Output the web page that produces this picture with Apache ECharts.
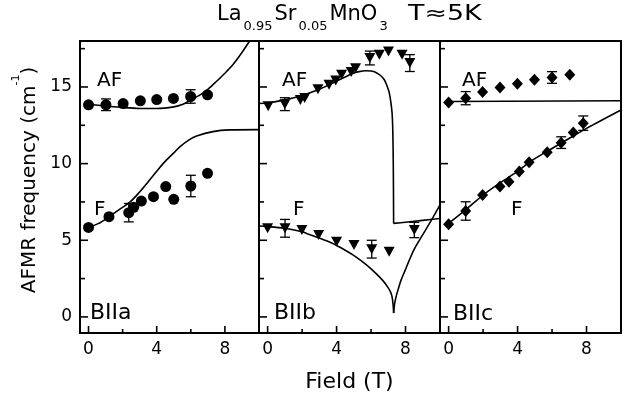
<!DOCTYPE html>
<html>
<head>
<meta charset="utf-8">
</head>
<body style="margin:0;background:#fff">
<div id="chart-panel" style="width:634px;height:401px"></div>
<script type="text/javascript" src="https://cdn.jsdelivr.net/npm/echarts@6/dist/echarts.min.js"></script>
<script type="text/javascript">
// measured points [field T, frequency cm-1]
var aAF = [[0,13.84],[1.02,13.84],[2.03,13.92],[3.04,14.1],[4.0,14.18],[4.98,14.25],[5.99,14.38],[6.98,14.49]];
var aF = [[0,5.84],[1.2,6.54],[2.36,6.8],[2.65,7.15],[3.1,7.56],[3.81,7.84],[4.53,8.5],[5.0,7.67],[6.0,8.54],[6.98,9.37]];
var bAF = [[0.03,13.75],[1.0,13.88],[1.9,14.15],[2.15,14.28],[2.92,14.86],[3.56,15.14],[3.95,15.42],[4.29,15.8],[4.85,15.98],[5.1,16.22],[5.93,16.89],[6.48,17.1],[7.01,17.32],[7.8,17.1],[8.25,16.56]];
var bF = [[0,5.78],[1.01,5.78],[1.99,5.67],[2.96,5.34],[4.0,4.9],[5.01,4.69],[6.04,4.42],[7.05,4.25],[8.51,5.67]];
var cAF = [[0,13.99],[0.99,14.27],[1.97,14.67],[2.98,14.97],[3.99,15.21],[4.98,15.47],[6.0,15.62],[7.03,15.8]];
var cF = [[0,6.04],[0.99,6.91],[1.97,7.95],[2.98,8.5],[3.5,8.82],[4.1,9.48],[4.67,10.09],[5.72,10.74],[6.53,11.37],[7.23,12.03],[7.81,12.64]];

// error bars [field, frequency, +/-]
var aAFerr = [[1.02,13.84,0.38],[5.99,14.38,0.44]];
var aFerr = [[2.36,6.8,0.6],[6.0,8.54,0.7]];
var bAFerr = [[1.0,13.88,0.42],[5.93,16.89,0.45],[8.25,16.56,0.55]];
var bFerr = [[1.01,5.78,0.58],[6.04,4.42,0.58],[8.51,5.67,0.5]];
var cAFerr = [[0.99,14.27,0.43],[6.0,15.62,0.38]];
var cFerr = [[0.99,6.91,0.6],[6.53,11.37,0.38],[7.81,12.64,0.47]];

// theory curves
var aAFfit = [[0,13.87],[1,13.76],[2,13.66],[3,13.6],[4,13.6],[5,13.7],[5.5,13.85],[6,14.15],[6.5,14.45],[7,14.85],[7.5,15.36],[8,15.9],[8.5,16.5],[9,17.25],[9.45,18.0]];
var aFfit = [[0,5.84],[0.6,6.1],[1.2,6.54],[1.8,7.0],[2.46,7.52],[3.0,8.15],[3.43,8.72],[4.0,9.5],[4.4,10.03],[5.0,10.7],[5.37,11.11],[5.9,11.55],[6.34,11.8],[7.3,12.09],[8.27,12.2],[10,12.22]];
var bAFfit = [[-0.5,13.92],[0,13.95],[1,14.16],[2,14.45],[3,14.85],[3.75,15.25],[4.5,15.65],[4.92,15.88],[5.3,16.0],[5.7,16.06],[6.0,16.04],[6.28,15.95],[6.55,15.75],[6.77,15.47],[6.95,15.0],[7.06,14.6],[7.15,14.0],[7.22,13.3],[7.26,12.2],[7.29,10],[7.31,6.1]];
var bAFtail = [[7.31,6.1],[8,6.18],[9,6.3],[10,6.42]];
var bFfit = [[-0.5,5.93],[0,5.9],[1,5.78],[2,5.55],[2.38,5.4],[3,5.15],[3.75,4.8],[4.5,4.35],[5.12,3.92],[5.7,3.42],[6.28,2.84],[6.7,2.35],[6.96,1.96],[7.12,1.65],[7.22,1.31],[7.28,0.8],[7.31,0.25]];
var bFrise = [[7.31,0.25],[7.36,0.8],[7.45,1.31],[7.6,1.9],[7.74,2.4],[8.0,3.1],[8.22,3.7],[8.5,4.4],[8.81,5.01],[9.1,5.55],[9.39,6.1],[9.7,6.7],[10,7.3]];
var cAFfit = [[0,14.05],[10,14.1]];
var cFfit = [[0,6.1],[1,7.0],[2,7.95],[3,8.75],[4,9.5],[4.73,10.13],[5.7,10.8],[6.68,11.44],[8,12.3],[10,13.5]];

var xMajor = [0, 4, 8];
var xMinor = [2, 6];
var yMajor = [0, 5, 10, 15];
var yMinor = [2.5, 7.5, 12.5, 17.5];

var X_MIN = -0.5, X_MAX = 10, Y_MIN = -1.05, Y_MAX = 18;
var FONT = "'DejaVu Sans', sans-serif";
var dom = document.getElementById('chart-panel');
var myChart = echarts.init(dom, null, {renderer: 'canvas'});

var grids = [
    {left: 80, top: 41, width: 179, height: 292},
    {left: 259, top: 41, width: 181, height: 292},
    {left: 440, top: 41, width: 181, height: 292}
];
grids.forEach(function (g) {
    g.show = true;
    g.borderColor = '#000';
    g.borderWidth = 2;
    g.containLabel = false;
});

var xAxes = [], yAxes = [];
for (var g = 0; g < 3; g++) {
    var xa = {
        gridIndex: g, type: 'value', min: X_MIN, max: X_MAX, position: 'bottom',
        axisLine: {show: false, onZero: false}, splitLine: {show: false}, axisTick: {show: false},
        axisLabel: {customValues: xMajor, color: '#000', fontSize: 17, fontFamily: FONT, margin: 8}
    };
    if (g === 1) {
        xa.name = 'Field (T)';
        xa.nameLocation = 'middle';
        xa.nameGap = 38;
        xa.nameTextStyle = {color: '#000', fontSize: 22, fontFamily: FONT};
    }
    xAxes.push(xa);
    var ya = {
        gridIndex: g, type: 'value', min: Y_MIN, max: Y_MAX, position: 'left',
        axisLine: {show: false, onZero: false}, splitLine: {show: false}, axisTick: {show: false},
        axisLabel: {show: g === 0, customValues: yMajor, color: '#000', fontSize: 17, fontFamily: FONT, margin: 8}
    };
    if (g === 0) {
        ya.name = 'AFMR frequency (cm{sup|-1})';
        ya.nameLocation = 'middle';
        ya.nameGap = 32;
        ya.nameTextStyle = {
            color: '#000', fontSize: 20, fontFamily: FONT, padding: [0, 0, 0, 14],
            rich: {sup: {color: '#000', fontSize: 11, fontFamily: FONT, padding: [0, 0, 26, 0]}}
        };
    }
    yAxes.push(ya);
}

function fit(data, g) {
    return {
        type: 'line', data: data, xAxisIndex: g, yAxisIndex: g,
        showSymbol: false, symbol: 'none', smooth: 0.3, clip: true,
        lineStyle: {color: '#000', width: 1.6}, z: 2, silent: true
    };
}
function dots(data, g, symbol, size, rotate) {
    return {
        type: 'scatter', data: data, xAxisIndex: g, yAxisIndex: g,
        symbol: symbol, symbolSize: size, symbolRotate: rotate || 0,
        itemStyle: {color: '#000', opacity: 1}, z: 4, silent: true
    };
}
function errorItem(params, api) {
    var x = api.value(0), y = api.value(1), e = api.value(2);
    var lo = api.coord([x, y - e]);
    var hi = api.coord([x, y + e]);
    var w = 5;
    var st = {stroke: '#000', lineWidth: 1.3};
    return {
        type: 'group',
        children: [
            {type: 'line', shape: {x1: lo[0], y1: lo[1], x2: hi[0], y2: hi[1]}, style: st},
            {type: 'line', shape: {x1: lo[0] - w, y1: lo[1], x2: lo[0] + w, y2: lo[1]}, style: st},
            {type: 'line', shape: {x1: hi[0] - w, y1: hi[1], x2: hi[0] + w, y2: hi[1]}, style: st}
        ]
    };
}
function errs(data, g) {
    return {
        type: 'custom', data: data, xAxisIndex: g, yAxisIndex: g,
        renderItem: errorItem, encode: {x: 0, y: 1}, z: 3, silent: true
    };
}

var series = [
    fit(aAFfit, 0), fit(aFfit, 0),
    errs(aAFerr, 0), errs(aFerr, 0),
    dots(aAF, 0, 'circle', 11), dots(aF, 0, 'circle', 11),

    fit(bAFfit, 1), fit(bAFtail, 1), fit(bFfit, 1), fit(bFrise, 1),
    errs(bAFerr, 1), errs(bFerr, 1),
    dots(bAF, 1, 'triangle', [11, 10], 180), dots(bF, 1, 'triangle', [11, 10], 180),

    fit(cAFfit, 2), fit(cFfit, 2),
    errs(cAFerr, 2), errs(cFerr, 2),
    dots(cAF, 2, 'diamond', [11, 12]), dots(cF, 2, 'diamond', [11, 12])
];

function label(text, x, y, size) {
    return {
        type: 'text', x: x, y: y, silent: true,
        style: {text: text, fill: '#000', fontSize: size, fontFamily: FONT, align: 'left', verticalAlign: 'middle'}
    };
}

var graphics = [
    {
        type: 'text', x: 217, y: 14.5, silent: true,
        style: {
            text: '{m|La}{s|0.95}{m|Sr}{s|0.05}{m|MnO}{s|3}',
            align: 'left', verticalAlign: 'middle', fill: '#000',
            rich: {
                m: {fontSize: 21, fontFamily: FONT, color: '#000', lineHeight: 24},
                s: {fontSize: 13, fontFamily: FONT, color: '#000', lineHeight: 14, padding: [24, 2, 0, 2]}
            }
        }
    },
    {
        type: 'text', x: 408, y: 14.5, scaleX: 1.28, silent: true,
        style: {text: 'T≈5K', fill: '#000', fontSize: 21, fontFamily: FONT, align: 'left', verticalAlign: 'middle'}
    },
    label('AF', 97, 81, 20), label('F', 94, 210, 20), label('BIIa', 90, 313, 22),
    label('AF', 282, 81, 20), label('F', 293, 210, 20), label('BIIb', 274, 313, 22),
    label('AF', 462, 81, 20), label('F', 511, 210, 20), label('BIIc', 453, 314, 22)
];

var option = {
    backgroundColor: '#fff',
    animation: false,
    grid: grids,
    xAxis: xAxes,
    yAxis: yAxes,
    series: series,
    graphic: graphics
};
myChart.setOption(option);

// inward tick marks on the panel edges, placed with the chart's own axis scales
function tickLine(g, value, dir, len) {
    var pt = dir === 'x' ? [value, Y_MIN] : [X_MIN, value];
    var p = myChart.convertToPixel({xAxisIndex: g, yAxisIndex: g}, pt);
    var shape = dir === 'x'
        ? {x1: p[0], y1: p[1], x2: p[0], y2: p[1] - len}
        : {x1: p[0], y1: p[1], x2: p[0] + len, y2: p[1]};
    return {type: 'line', shape: shape, z: 100, silent: true, style: {stroke: '#000', lineWidth: 1.6}};
}
var tickEls = [];
for (var k = 0; k < 3; k++) {
    xMajor.forEach(function (v) { tickEls.push(tickLine(k, v, 'x', 7)); });
    xMinor.forEach(function (v) { tickEls.push(tickLine(k, v, 'x', 4)); });
    yMajor.forEach(function (v) { tickEls.push(tickLine(k, v, 'y', 8)); });
    yMinor.forEach(function (v) { tickEls.push(tickLine(k, v, 'y', 5)); });
}
myChart.setOption({graphic: graphics.concat(tickEls)});
</script>
</body>
</html>
